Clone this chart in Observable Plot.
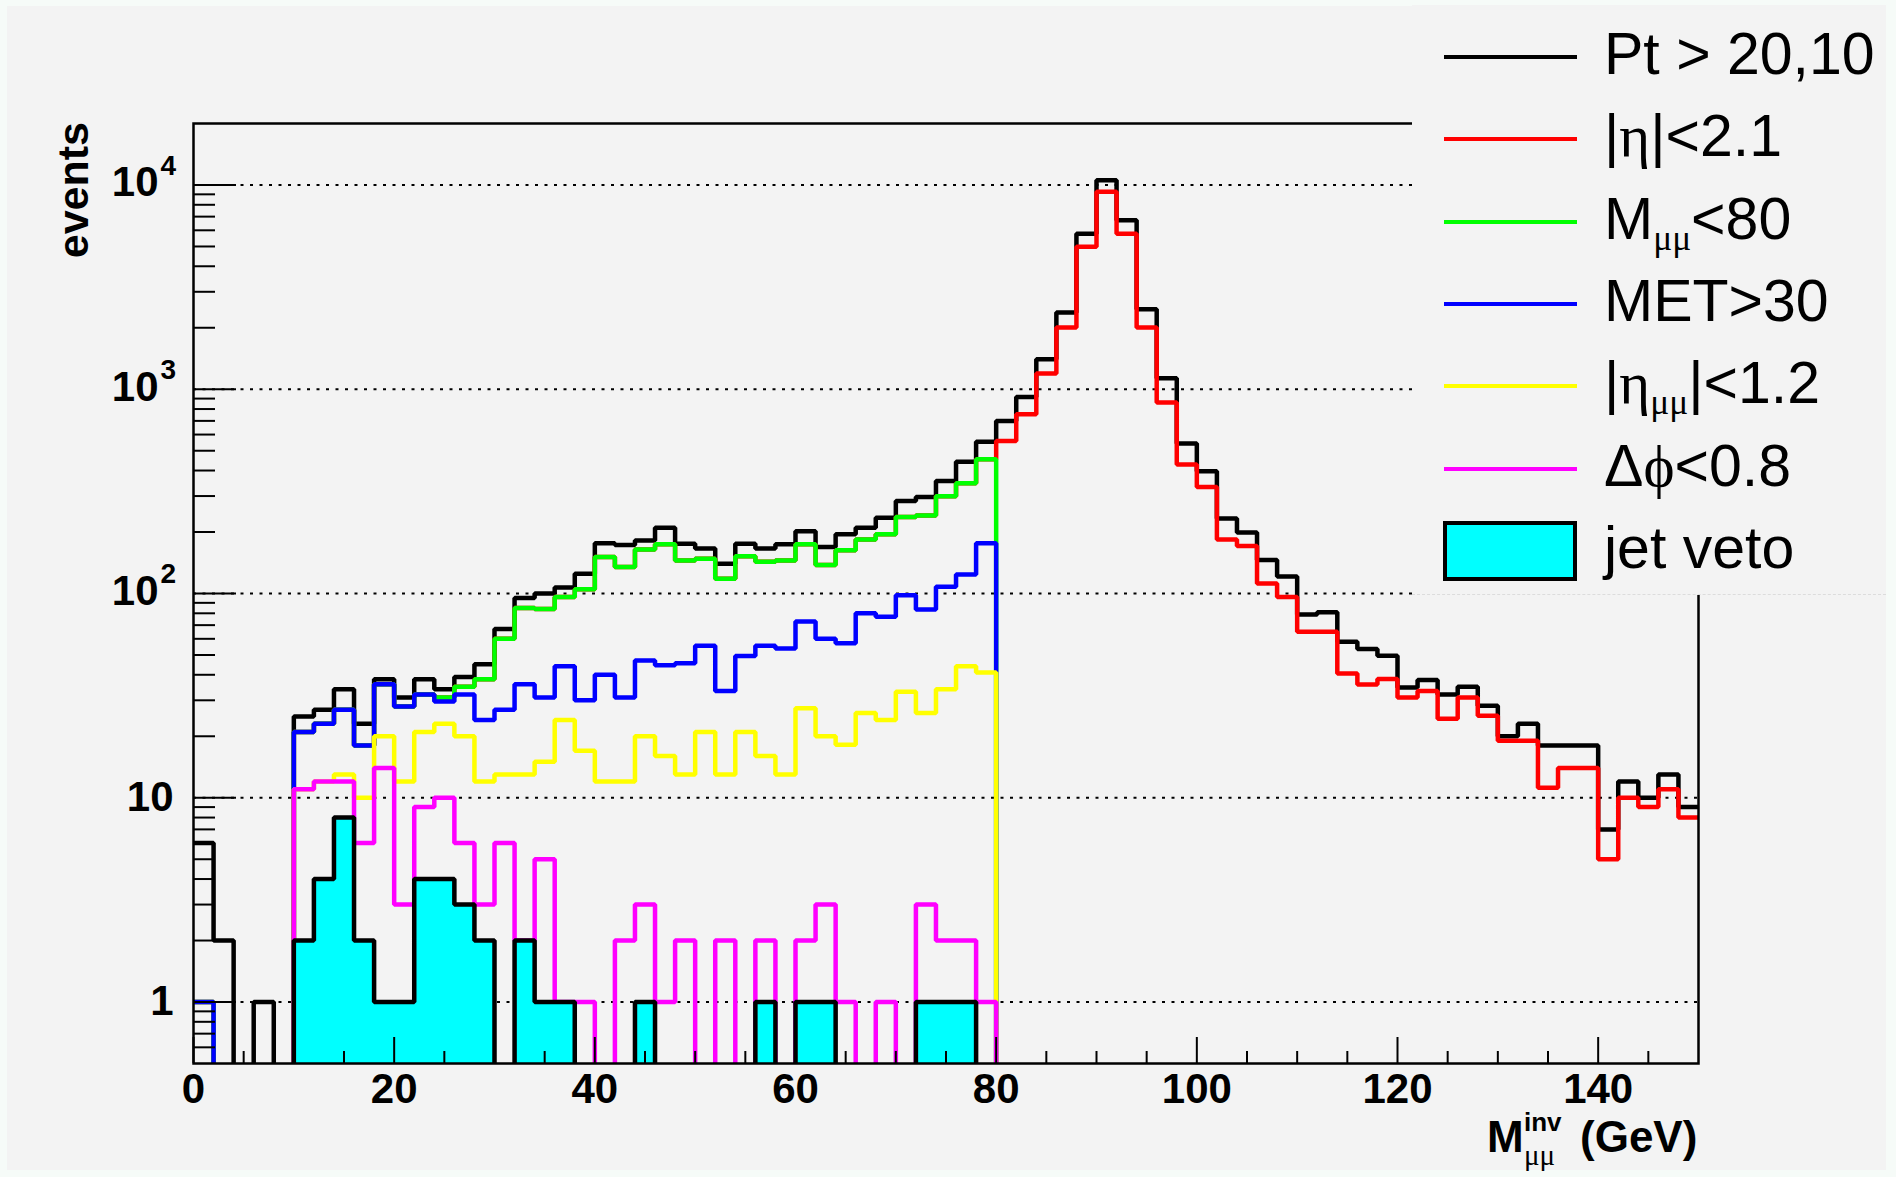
<!DOCTYPE html>
<html>
<head>
<meta charset="utf-8">
<script src="https://cdn.jsdelivr.net/npm/d3@7"></script>
<script src="https://cdn.jsdelivr.net/npm/@observablehq/plot@0.6"></script>
<style>
html, body { margin: 0; padding: 0; background: #f6fbf8; overflow: hidden; }
#page { position: relative; width: 1896px; height: 1177px; overflow: hidden; }
#canvas { position: absolute; left: 7px; top: 6px; width: 1879px; height: 1164px; background: #f3f3f3; }
#chart { position: absolute; left: 0; top: 0; }
.lbl { position: absolute; line-height: 1; white-space: nowrap; color: #000; overflow: visible;
       font-family: 'Liberation Sans', Arial, Helvetica, sans-serif; }
.gk { font-family: 'Liberation Serif', 'DejaVu Serif', serif; }
.sub { font-family: 'Liberation Serif', 'DejaVu Serif', serif; font-size: 0.6em; vertical-align: -0.32em; }
#legend { position: absolute; left: 1412px; top: 5px; width: 474px; height: 589px; background: #f3f3f3;
          border-bottom: 1px dashed #dcdcdc; }
.legline { position: absolute; left: 1444px; width: 133px; height: 4px; }
.legbox { position: absolute; left: 1443px; width: 134px; height: 60px; box-sizing: border-box;
          border: 4px solid #000; background: #00ffff; }
</style>
</head>
<body>
<div id="page">
  <div id="canvas"></div>
  <div id="chart"></div>
  <div id="legend"></div>
</div>
<script>
// ---------------- data ----------------
const binEdges = [0,2,4,6,8,10,12,14,16,18,20,22,24,26,28,30,32,34,36,38,40,42,44,46,48,50,52,54,56,58,
  60,62,64,66,68,70,72,74,76,78,80,82,84,86,88,90,92,94,96,98,100,102,104,106,108,110,112,114,116,118,
  120,122,124,126,128,130,132,134,136,138,140,142,144,146,148,150];

// Pt > 20,10
const ptCut = [6,2,0,1,0,25,27,34,23,38, 31,38,34,39,45,67,95,100,107,125,
  176,173,182,210,175,166,140,175,166,174, 202,169,195,210,235,284,297,355,441,554,
  700,917,1402,2373,5776,10540,6714,2467,1132,543, 397,233,199,146,121,79,81,58,53.5,49.6,
  34.7,37.7,32,35,28.2,20,23,18,18,18, 7,12,10,13,9];
// |eta| < 2.1
const etaCut = [1,0,0,0,0,21,23,27,18,36, 28,32,31,35,38,60,85,84,96,105,
  151,135,164,174,145,148,118,152,143,145, 174,138,163,184,195,237,241,299,347,454,
  558,755,1194,2004,4990,9270,5776,2004,861,428, 332,184,171,112,96,65,65,40.6,35.8,38.1,
  31,33.3,24.4,31,25.2,19,19,11.2,14,14, 5,10,9,11,8];
// M_mumu < 80
const massCut = [1,0,0,0,0,21,23,27,18,36, 28,32,31,35,38,60,85,84,96,105,
  151,135,164,174,145,148,118,152,143,145, 174,138,163,184,195,237,241,299,347,454,
  0,0,0,0,0,0,0,0,0,0, 0,0,0,0,0,0,0,0,0,0, 0,0,0,0,0,0,0,0,0,0, 0,0,0,0,0];
// MET > 30
const metCut = [1,0,0,0,0,21,23,27,18,36, 28,32,29.6,32,24,27,36,31,44,30,
  40,31,47,44.5,45.5,55.5,33.3,49.4,55.5,53.8, 73,60,57,80,77,98,83.5,108,124,176,
  0,0,0,0,0,0,0,0,0,0, 0,0,0,0,0,0,0,0,0,0, 0,0,0,0,0,0,0,0,0,0, 0,0,0,0,0];
// |eta_mumu| < 1.2
const etaMuMuCut = [0,0,0,0,0,11,12,13,10,20, 12,21,23,20,12,13,13,15,24,17,
  12,12,20,16,13,21,13,21,16,13, 27.4,20,18.2,26,24,33,26,34,44,41,
  0,0,0,0,0,0,0,0,0,0, 0,0,0,0,0,0,0,0,0,0, 0,0,0,0,0,0,0,0,0,0, 0,0,0,0,0];
// delta phi < 0.8
const dphiCut = [0,0,0,0,0,11,12,12,6,14, 3,9,10,6,3,6,2,5,1,1,
  0,2,3,1,2,0,2,0,2,0, 2,3,1,0,1,0,3,2,2,1,
  0,0,0,0,0,0,0,0,0,0, 0,0,0,0,0,0,0,0,0,0, 0,0,0,0,0,0,0,0,0,0, 0,0,0,0,0];
// jet veto
const jetVeto = [0,0,0,0,0,2,4,8,2,1, 1,4,4,3,2,0,2,1,1,0,
  0,0,1,0,0,0,0,0,1,0, 1,1,0,0,0,0,1,1,1,0,
  0,0,0,0,0,0,0,0,0,0, 0,0,0,0,0,0,0,0,0,0, 0,0,0,0,0,0,0,0,0,0, 0,0,0,0,0];

const seriesColors = ["#000000", "#ff0000", "#00ff00", "#0000ff", "#ffff00", "#ff00ff"];
const jetVetoColor = "#00ffff";

// axis ticks & labels
const xMajor = [0,20,40,60,80,100,120,140];
const xMinor = [5,10,15,25,30,35,45,50,55,65,70,75,85,90,95,105,110,115,125,130,135,145];
const xLabels = ["0","20","40","60","80","100","120","140"];
const yMajor = [1,10,100,1000,10000];
const yMinor = [0.6,0.7,0.8,0.9, 2,3,4,5,6,7,8,9, 20,30,40,50,60,70,80,90,
  200,300,400,500,600,700,800,900, 2000,3000,4000,5000,6000,7000,8000,9000];
const yLabelBase = ["1","10","10","10","10"];
const yLabelExp = ["","","2","3","4"];

const legendLabels = [
  'Pt &gt; 20,10',
  '|<span class="gk">η</span>|&lt;2.1',
  'M<span class="sub">μμ</span>&lt;80',
  'MET&gt;30',
  '|<span class="gk">η</span><span class="sub">μμ</span>|&lt;1.2',
  'Δ<span class="gk">ϕ</span>&lt;0.8',
  'jet veto'
];

// ---------------- layout ----------------
const W = 1896, H = 1177;
const mL = 193, mR = 198, mT = 123, mB = 114;
const innerW = W - mL - mR;
const innerH = H - mT - mB;
const FONT = "'Liberation Sans', Arial, Helvetica, sans-serif";
const LW = 4.5;

// step outline of a histogram; empty bins sit below the (clipped) frame
function steps(values, floor) {
  const pts = [];
  values.forEach((v, i) => {
    const y = v > 0 ? v : floor;
    pts.push({x: binEdges[i], y}, {x: binEdges[i + 1], y});
  });
  return pts;
}

const allSeries = [ptCut, etaCut, massCut, metCut, etaMuMuCut, dphiCut];
const yTable = yMajor.map((v, i) => ({v, base: yLabelBase[i], exp: yLabelExp[i]}));
const yPlain = yTable.filter(d => !d.exp);
const yExp = yTable.filter(d => d.exp);
const xTable = xMajor.map((v, i) => ({v, label: xLabels[i]}));

const plot = Plot.plot({
  width: W, height: H,
  marginLeft: mL, marginRight: mR, marginTop: mT, marginBottom: mB,
  style: {background: "transparent", fontFamily: FONT, overflow: "visible"},
  x: {domain: [0, 150], axis: null},
  y: {type: "log", domain: [0.5, 20000], axis: null},
  marks: [
    Plot.ruleY(yMajor, {y: d => d, stroke: "#000", strokeWidth: 2, strokeDasharray: "3,6.5"}),
    ...allSeries.map((vals, k) => Plot.line(steps(vals, 0.3), {
      x: "x", y: "y", stroke: seriesColors[k], strokeWidth: LW,
      strokeLinejoin: "miter", strokeLinecap: "butt", clip: true
    })),
    Plot.areaY(steps(jetVeto, 0.5), {x: "x", y1: d => 0.5, y2: "y", fill: jetVetoColor, clip: true}),
    Plot.line(steps(jetVeto, 0.3), {x: "x", y: "y", stroke: "#000", strokeWidth: LW,
      strokeLinejoin: "miter", strokeLinecap: "butt", clip: true}),
    Plot.frame({stroke: "#000", strokeWidth: 2.5}),
    Plot.tickY(yMajor, {y: d => d, stroke: "#000", strokeWidth: 2, insetRight: innerW - 43}),
    Plot.tickY(yMinor, {y: d => d, stroke: "#000", strokeWidth: 2, insetRight: innerW - 22}),
    Plot.tickX(xMajor, {x: d => d, stroke: "#000", strokeWidth: 2, insetTop: innerH - 26}),
    Plot.tickX(xMinor, {x: d => d, stroke: "#000", strokeWidth: 2, insetTop: innerH - 12}),
    Plot.text(yPlain, {y: "v", text: "base", frameAnchor: "left", textAnchor: "end", lineAnchor: "middle",
      dx: -20, fontSize: 42, fontWeight: "bold", fontFamily: FONT, fill: "#000"}),
    Plot.text(yExp, {y: "v", text: "base", frameAnchor: "left", textAnchor: "end", lineAnchor: "middle",
      dx: -35, dy: -2, fontSize: 42, fontWeight: "bold", fontFamily: FONT, fill: "#000"}),
    Plot.text(yExp, {y: "v", text: "exp", frameAnchor: "left", textAnchor: "start", lineAnchor: "middle",
      dx: -33, dy: -19, fontSize: 28, fontWeight: "bold", fontFamily: FONT, fill: "#000"}),
    Plot.text(xTable, {x: "v", text: "label", frameAnchor: "bottom", lineAnchor: "top",
      dy: 10, fontSize: 42, fontWeight: "bold", fontFamily: FONT, fill: "#000"})
  ]
});
document.getElementById("chart").appendChild(plot);

// ---------------- legend ----------------
const page = document.getElementById("page");
const legendColors = [...seriesColors, jetVetoColor];
const rowY0 = 57, rowStep = 82.3, legFont = 59;
legendLabels.forEach((lab, i) => {
  const yc = rowY0 + rowStep * i;
  if (i < 6) {
    const l = document.createElement("div");
    l.className = "legline";
    l.style.top = (yc - 2) + "px";
    l.style.background = legendColors[i];
    page.appendChild(l);
  } else {
    const b = document.createElement("div");
    b.className = "legbox";
    b.style.top = (yc - 30) + "px";
    page.appendChild(b);
  }
  const t = document.createElement("div");
  t.className = "lbl";
  t.style.left = "1604px";
  t.style.fontSize = legFont + "px";
  t.style.top = (yc + 18 - 0.8465 * legFont) + "px";
  t.innerHTML = lab;
  page.appendChild(t);
});

// ---------------- axis titles ----------------
function addText(html, left, baseline, size, extra) {
  const d = document.createElement("div");
  d.className = "lbl";
  d.style.left = left + "px";
  d.style.fontSize = size + "px";
  d.style.top = (baseline - 0.8465 * size) + "px";
  Object.assign(d.style, extra || {});
  d.innerHTML = html;
  page.appendChild(d);
  return d;
}
addText("M", 1487, 1152, 44, {fontWeight: "bold"});
addText("inv", 1524, 1131, 26, {fontWeight: "bold"});
addText("μμ", 1524, 1166, 29, {fontFamily: "'Liberation Serif', 'DejaVu Serif', serif"});
addText("(GeV)", 1580, 1152, 44, {fontWeight: "bold"});

const ev = document.createElement("div");
ev.className = "lbl";
Object.assign(ev.style, {
  left: "51.6px", top: "322px", width: "200px", textAlign: "right",
  fontSize: "43px", fontWeight: "bold", transformOrigin: "0 0", transform: "rotate(-90deg)"
});
ev.textContent = "events";
page.appendChild(ev);
</script>
</body>
</html>
